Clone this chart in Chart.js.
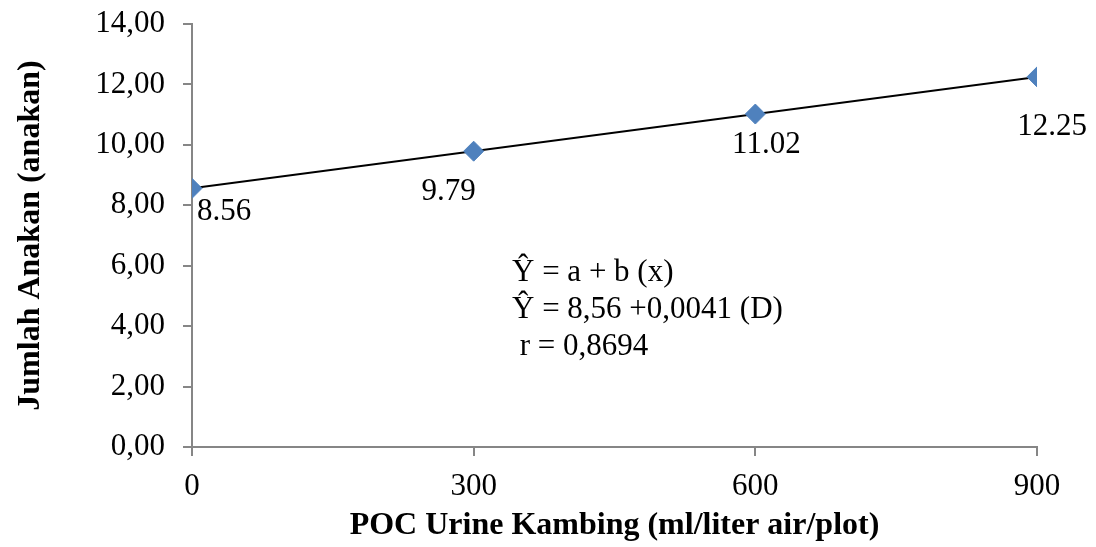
<!DOCTYPE html>
<html>
<head>
<meta charset="utf-8">
<script src="https://cdn.jsdelivr.net/npm/chart.js@4.4.1/dist/chart.umd.min.js"></script>
<style>
  html,body{margin:0;padding:0;background:#fff}
  #wrap{width:1096px;height:547px}
</style>
</head>
<body>
<div id="wrap"><canvas id="c" width="1096" height="547"></canvas></div>
<script>
const doses = [0, 300, 600, 900]
const tillers = [8.56, 9.79, 11.02, 12.25]
const pointLabels = ['8.56', '9.79', '11.02', '12.25']
const trendX = [0, 900]
const trendY = [8.56, 12.25]
const equationLines = ['\u0176 = a + b (x)', '\u0176 = 8,56 +0,0041 (D)', ' r = 0,8694']

const serif = "'Liberation Serif', 'Times New Roman', serif"
const axisGray = '#868686'

// label offsets from each point (px)
const labelOffsets = [[5, 23, 'left'], [-25, 41, 'center'], [11, 31, 'center'], [15, 50, 'center']]

const textPlugin = {
  id: 'texts',
  afterDatasetsDraw(chart){
    const {ctx, scales:{x, y}} = chart
    ctx.save()
    ctx.fillStyle = '#000'
    ctx.font = '31px ' + serif
    ctx.textBaseline = 'middle'
    doses.forEach((d, i) => {
      const [dx, dy, al] = labelOffsets[i]
      ctx.textAlign = al
      ctx.fillText(pointLabels[i], x.getPixelForValue(d) + dx, y.getPixelForValue(tillers[i]) + dy)
    })
    ctx.textAlign = 'left'
    const x0 = x.getPixelForValue(0) + 320
    const y0 = y.getPixelForValue(6) + 7
    equationLines.forEach((t, i) => ctx.fillText(t, x0, y0 + i * 37))
    ctx.restore()
  }
}

const fmt = v => v.toFixed(2).replace('.', ',')

new Chart(document.getElementById('c'), {
  type: 'scatter',
  data: {
    datasets: [
      {
        label: 'trend',
        data: trendX.map((v, i) => ({x: v, y: trendY[i]})),
        showLine: true,
        borderColor: '#000',
        borderWidth: 2,
        pointRadius: 0,
        order: 2
      },
      {
        label: 'Jumlah anakan',
        data: doses.map((v, i) => ({x: v, y: tillers[i]})),
        pointStyle: 'rectRot',
        pointRadius: 10,
        pointHoverRadius: 10,
        backgroundColor: '#4F81BD',
        borderColor: '#4F81BD',
        borderWidth: 1,
        order: 1
      }
    ]
  },
  options: {
    responsive: false,
    animation: false,
    layout: {padding: {top: 24, right: 59, left: 0, bottom: 0}},
    plugins: {legend: {display: false}, tooltip: {enabled: false}},
    scales: {
      x: {
        type: 'linear', min: 0, max: 900,
        afterFit: s => { s.height = 100; s.paddingLeft = 0; s.paddingRight = 0 },
        border: {color: axisGray, width: 2},
        grid: {display: true, drawOnChartArea: false, drawTicks: true, tickLength: 9, color: axisGray, lineWidth: 2},
        ticks: {stepSize: 300, color: '#000', padding: 12, font: {family: serif, size: 31}},
        title: {display: true, text: 'POC Urine Kambing (ml/liter air/plot)', color: '#000', padding: {top: 0, bottom: 2}, font: {family: serif, size: 32, weight: 'bold'}}
      },
      y: {
        min: 0, max: 14,
        afterFit: s => { s.width = 192; s.paddingTop = 0; s.paddingBottom = 0 },
        border: {color: axisGray, width: 2},
        grid: {display: true, drawOnChartArea: false, drawTicks: true, tickLength: 9, color: axisGray, lineWidth: 2},
        ticks: {stepSize: 2, color: '#000', padding: 18, font: {family: serif, size: 31}, callback: v => fmt(v)},
        title: {display: true, text: 'Jumlah Anakan (anakan)', color: '#000', padding: {top: 12, bottom: 0}, font: {family: serif, size: 32, weight: 'bold'}}
      }
    }
  },
  plugins: [textPlugin]
})
</script>
</body>
</html>
